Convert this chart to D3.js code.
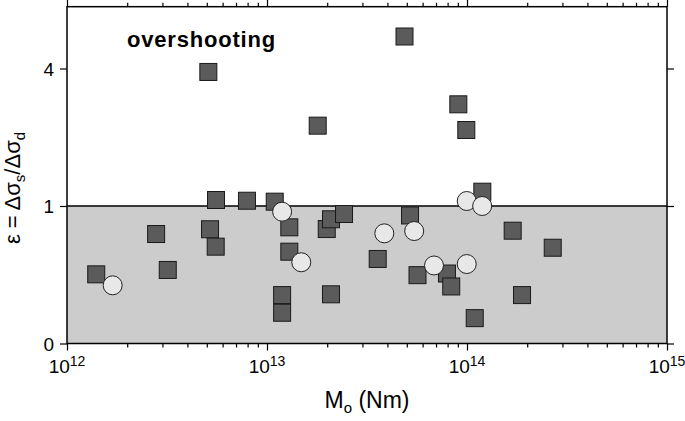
<!DOCTYPE html>
<html><head><meta charset="utf-8">
<script src="https://cdn.jsdelivr.net/npm/d3@7"></script>
<style>body{margin:0;background:#fff}svg{display:block;font-family:"Liberation Sans",Arial,Helvetica,sans-serif}</style>
</head><body><svg id="c" width="685" height="421"></svg>
<script>
// ---- data ----
const squareMoment = [1.40e12, 2.79e12, 3.19e12, 5.09e12, 5.19e12, 5.56e12, 5.54e12, 7.94e12, 1.093e13, 1.19e13, 1.19e13, 1.293e13, 1.293e13, 1.793e13, 1.989e13, 2.089e13, 2.089e13, 2.427e13, 3.577e13, 4.87e13, 5.19e13, 5.656e13, 7.94e13, 8.34e13, 9.05e13, 9.92e13, 1.093e14, 1.193e14, 1.692e14, 1.884e14, 2.683e14];
const squareEps = [0.253, 0.634, 0.286, 3.90, 0.690, 1.089, 0.496, 1.078, 1.064, 0.124, 0.050, 0.714, 0.446, 2.51, 0.693, 0.816, 0.128, 0.887, 0.378, 4.985, 0.867, 0.247, 0.259, 0.172, 3.026, 2.411, 0.034, 1.219, 0.673, 0.124, 0.485];
const circleMoment = [1.692e12, 1.19e13, 1.484e13, 3.86e13, 5.445e13, 6.84e13, 9.97e13, 9.97e13, 1.191e14];
const circleEps = [0.179, 0.919, 0.349, 0.642, 0.669, 0.322, 0.334, 1.074, 1.00];
const xTickExponents = [12, 13, 14, 15];
const yTickValues = [0, 1, 4];
const xDomain = [1e12, 1e15];
const yDomain = [0, 6];
const overshootLabel = "overshooting";

// ---- layout ----
const L = 67, R = 667, B = 343.5, unit = 137.5;
const svg = d3.select("#c");
const x = d3.scaleLog().domain(xDomain).range([L, R]);
const y = d3.scaleSqrt().domain(yDomain).range([B, B - unit * Math.sqrt(6)]);
const T = y(6);

// shaded region eps<1
svg.append("rect").attr("x", L).attr("y", y(1)).attr("width", R - L).attr("height", y(0) - y(1)).attr("fill", "#cccccc");
svg.append("line").attr("x1", L).attr("x2", R).attr("y1", y(1)).attr("y2", y(1)).attr("stroke", "#000").attr("stroke-width", 1.3);

// x ticks (major+minor)
const xTicks = [];
for (let e = 12; e < 15; e++) for (let m = 1; m < 10; m++) xTicks.push(m * Math.pow(10, e));
xTicks.push(1e15);
const isMajor = v => Math.abs(Math.log10(v) - Math.round(Math.log10(v))) < 1e-9;

function styleAxis(g, dir) {
  g.select(".domain").remove();
  g.selectAll(".tick line").attr("stroke", "#000").attr("stroke-width", 1.2);
  g.selectAll(".tick text").remove();
}
const axB = d3.axisBottom(x).tickValues(xTicks).tickFormat("").tickSizeOuter(0);
const gB = svg.append("g").attr("transform", `translate(0,${B})`).call(axB);
styleAxis(gB);
gB.selectAll(".tick line").attr("y2", d => isMajor(d) ? 7 : 4);
const axT = d3.axisTop(x).tickValues(xTicks).tickFormat("").tickSizeOuter(0);
const gT = svg.append("g").attr("transform", `translate(0,${T})`).call(axT);
styleAxis(gT);
gT.selectAll(".tick line").attr("y2", d => isMajor(d) ? -7 : -4);

const axL = d3.axisLeft(y).tickValues(yTickValues).tickFormat("").tickSize(7).tickSizeOuter(0);
const gL = svg.append("g").attr("transform", `translate(${L},0)`).call(axL);
styleAxis(gL);
const axR = d3.axisRight(y).tickValues(yTickValues).tickFormat("").tickSize(7).tickSizeOuter(0);
const gR = svg.append("g").attr("transform", `translate(${R},0)`).call(axR);
styleAxis(gR);

// x tick labels with superscripts
xTickExponents.forEach(e => {
  const t = svg.append("text").attr("x", x(Math.pow(10, e))).attr("y", 373).attr("text-anchor", "middle")
    .attr("font-size", 19).attr("fill", "#000");
  t.append("tspan").text("10");
  t.append("tspan").attr("font-size", 14).attr("dy", -7).text(e);
});
// y tick labels
yTickValues.forEach(v => {
  svg.append("text").attr("x", 54).attr("y", y(v) + 7).attr("text-anchor", "end")
    .attr("font-size", 19).attr("fill", "#000").text(v);
});

// axis titles
const xt = svg.append("text").attr("x", 367).attr("y", 408).attr("text-anchor", "middle").attr("font-size", 23);
xt.append("tspan").text("M");
xt.append("tspan").attr("font-size", 15).attr("dy", 5).text("o");
xt.append("tspan").attr("dy", -5).text(" (Nm)");

const yt = svg.append("text").attr("transform", "translate(20,188) rotate(-90)").attr("text-anchor", "middle").attr("font-size", 22);
yt.append("tspan").text("ε = Δσ");
yt.append("tspan").attr("font-size", 15).attr("dy", 5).text("s");
yt.append("tspan").attr("dy", -5).text("/Δσ");
yt.append("tspan").attr("font-size", 15).attr("dy", 5).text("d");

// label
svg.append("text").attr("x", 127).attr("y", 47).attr("font-size", 22).attr("font-weight", "bold").attr("letter-spacing", 0.8).text(overshootLabel);

// markers
const sq = 17;
const squares = squareMoment.map((m, i) => ({ m, e: squareEps[i] }));
svg.append("g").selectAll("rect").data(squares).join("rect")
  .attr("x", d => x(d.m) - sq / 2).attr("y", d => y(d.e) - sq / 2)
  .attr("width", sq).attr("height", sq)
  .attr("fill", "#5b5b5b").attr("stroke", "#1a1a1a").attr("stroke-width", 1);
const circles = circleMoment.map((m, i) => ({ m, e: circleEps[i] }));
svg.append("g").selectAll("circle").data(circles).join("circle")
  .attr("cx", d => x(d.m)).attr("cy", d => y(d.e)).attr("r", 9.5)
  .attr("fill", "#e8e8e8").attr("stroke", "#222").attr("stroke-width", 1);

// frame
svg.append("rect").attr("x", L).attr("y", T).attr("width", R - L).attr("height", B - T)
  .attr("fill", "none").attr("stroke", "#000").attr("stroke-width", 1.5);
</script></body></html>
